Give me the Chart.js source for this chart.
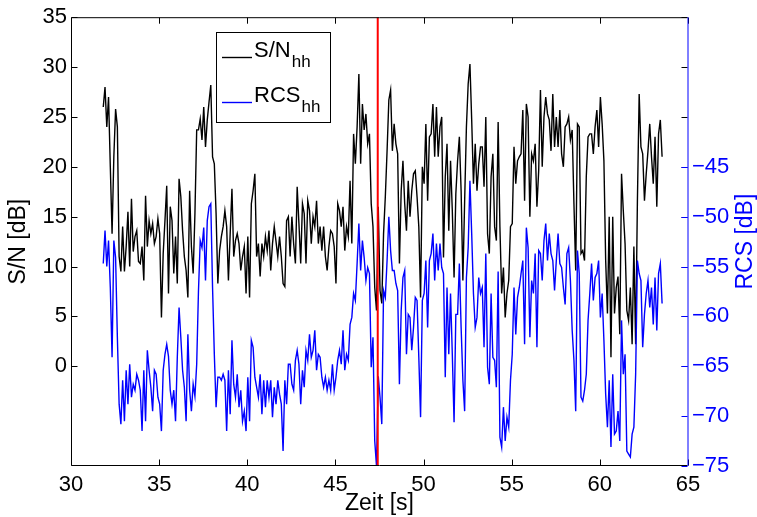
<!DOCTYPE html>
<html lang="de">
<head>
<meta charset="UTF-8">
<title>S/N und RCS</title>
<script src="https://cdn.jsdelivr.net/npm/chart.js"></script>
<style>
    * {
        margin: 0;
        padding: 0;
        box-sizing: border-box;
    }

    body {
        background: #fff;
        width: 757px;
        height: 517px;
        overflow: hidden;
    }

    #chart {
        display: block;
    }
</style>
</head>
<body>
<canvas id="chart" width="757" height="517"></canvas>
<script>
    // both traces are sampled on the same time grid (s)
    const tStart = 31.83;
    const tStep = 0.1;

    // S/N hh [dB] (left axis)
    const snHH = [
        26.0, 28.0, 24.0, 27.0, 20.0, 13.3, 21.0, 25.8, 24.0, 11.0, 9.5, 14.0, 9.5, 12.0, 15.5, 10.0, 16.8, 11.5, 13.0, 13.6,
        10.5, 10.3, 12.0, 8.6, 17.1, 12.0, 14.6, 13.3, 14.3, 12.3, 13.0, 14.8, 13.3, 4.9, 11.3, 14.6, 18.1, 7.3, 16.0, 14.6,
        9.3, 13.0, 8.3,
        18.8, 17, 13.6, 11, 9.6, 6.9, 17.6, 12, 9.3, 15.3, 23.7, 23.7, 24.8, 22.7, 26, 22, 24.7, 26.5, 28.2, 21,
        20.3, 15.3, 8.3, 11.6, 13, 14, 15.6, 14, 8.6, 13.3, 17.8, 11, 12.6, 13.3, 12.3, 9.6, 11, 12, 7.3, 13,
        6.9, 16.3, 17.6, 19.3, 11, 12.3,
        9.0, 12.3, 11, 13, 11.6, 13.6, 9.6, 12.3, 14, 12.5, 11, 13, 11, 8.3, 8.0, 14.6, 15, 11, 15, 12.3,
        10.3, 18, 14.3, 10.3, 16.3, 15.3, 10.3, 16.6, 15.6, 12.3, 15, 14, 16.6, 12.3, 14, 11.6, 14, 11, 9.6, 12,
        13.6, 13.3, 12, 8.3, 16.3,
        15.6, 14, 16, 11.6, 14, 13, 18.6, 12.3, 23.3, 20.3, 24, 29.3, 20.3, 26.3, 23.7, 25.3, 22.3, 23.3, 16.3, 14,
        7.9, 5.6, 16, 7.6, 6.3, 13.3, 17, 21.6, 26.7, 27.7, 21.6, 24.3, 22.3, 21.3, 10.3, 17.6, 20.6, 16.3, 13.6, 18.6,
        15, 17.6, 19.3, 19.6, 17,
        14, 6.9, 20, 18.3, 24.3, 16.6, 23, 23.3, 26.3, 21, 26, 21, 24, 25, 10.9, 19, 22.3, 13.6, 20.6, 15.6,
        8.9, 17.3, 20.6, 23, 17.6, 8.6, 16.6, 24, 28.3, 30.3, 24.7, 18.3, 22.3, 17.6, 20.3, 22, 22, 18, 25, 13.3,
        11.3, 19, 21.3, 14, 12.6,
        24.5, 14, 7.3, 9.9, 4.9, 7.3, 8.6, 14, 14.3, 22, 18.3, 20.6, 21, 21.3, 25.7, 16.6, 26.3, 25, 15, 21.3,
        20.6, 22.3, 16, 19.6, 27.7, 20, 25, 27, 25.3, 24.7, 21.6, 27.3, 22, 25, 22, 25.7, 21.3, 20, 24, 24.3,
        25, 22.7, 23.7, 16.3, 9.6,
        24.3, 24, 11.3, 11.6, 10.6, 19, 23, 23.3, 23.3, 21.3, 24, 25.7, 22, 27, 24.3, 20.6, 10.6, 5.3, 15, 0.9,
        15, 5.3, 7.9, 9, 3.2, 19.3, 15.6, 12.3, 5.6, 4.6, 7.9, 2.2, 12, 2.2, 16.6, 27.3, 22, 21.3, 16.6, 19.3,
        21.6, 24.3, 21, 18.3, 23, 16, 23.3, 24.7, 21
    ];

    // RCS hh [dB] (right axis)
    const rcsHH = [
        -54.7, -51.4, -55.0, -52.4, -57.1, -64.1, -52.4, -54.1, -62.1, -68.8, -70.8, -66.4, -70.5, -65.4, -68.8, -64.8, -68.1, -66.8, -67.4, -65.8,
        -66.4, -67.4, -71.5, -65.4, -70.5, -63.4, -65.4, -67.1, -69.5, -65.4, -65.8, -68.1, -68.8, -71.5, -65.4, -63.8, -62.8, -64.0, -67.4, -68.8,
        -67.4, -70.5, -64.1,
        -59.1, -62.1, -65.4, -67.1, -70.5, -61.8, -67.4, -69.5, -66.8, -68.0, -64.8, -57.5, -52.4, -53.1, -51.1, -56.4, -50.4, -49.0, -48.7, -57.1,
        -63.8, -69.1, -66.1, -66.1, -66.4, -65.8, -66.4, -71.5, -65.4, -69.8, -62.4, -66.8, -68.1, -65.8, -69.1, -67.4, -70.5, -69.5, -71.5, -66.1,
        -70.5, -62.4, -63.1, -66.1, -67.1, -68.1,
        -65.8, -69.8, -66.4, -69.1, -66.4, -68.1, -66.4, -70.1, -67.1, -68.8, -66.4, -67.8, -68.8, -73.5, -66.4, -68.8, -64.8, -64.8, -66.8, -67.4,
        -64.4, -63.4, -64.8, -68.8, -65.4, -67.1, -63.4, -64.4, -61.8, -64.1, -63.4, -61.4, -65.4, -63.8, -64.1, -66.1, -67.1, -66.1, -67.4, -66.4,
        -67.4, -64.8, -67.4, -66.1, -64.4,
        -63.4, -64.8, -61.4, -65.4, -63.8, -64.4, -60.8, -60.1, -57.7, -58.4, -54.7, -50.7, -55.4, -52.4, -54.1, -56.4, -55.1, -55.7, -65.1, -62.1,
        -72.5, -75.0, -66.0, -68.1, -70.8, -57.4, -58.1, -54.4, -50.0, -53.4, -55.4, -55.4, -56.7, -57.4, -66.8, -59.4, -56.1, -55.4, -63.8, -59.8,
        -60.1, -63.4, -61.1, -58.1, -58.4,
        -64.1, -70.1, -58.4, -57.7, -54.4, -61.1, -54.4, -53.7, -51.7, -56.4, -52.7, -55.4, -52.7, -55.1, -55.7, -66.1, -57.1, -63.8, -57.7, -63.8,
        -70.6, -59.8, -59.8, -54.7, -61.1, -66.4, -69.5, -56.1, -53.1, -46.4, -51.7, -57.7, -61.1, -60.1, -56.1, -57.7, -57.1, -63.1, -53.7, -65.1,
        -66.8, -57.7, -64.1, -64.4, -67.1,
        -55.5, -72.1, -73.1, -69.1, -72.5, -70.1, -71.1, -66.4, -63.8, -57.1, -61.8, -58.1, -57.1, -55.7, -54.4, -62.8, -51.1, -53.1, -62.1, -56.4,
        -57.7, -53.7, -63.1, -53.4, -53.7, -56.4, -52.4, -50.7, -54.4, -51.7, -53.7, -54.4, -57.4, -54.4, -51.7, -54.7, -55.1, -57.1, -58.8, -53.7,
        -53.1, -56.4, -61.4, -64.4, -69.5,
        -53.4, -55.7, -68.1, -68.5, -67.4, -65.8, -60.4, -57.7, -54.7, -58.4, -56.1, -55.7, -54.4, -60.1, -57.7, -62.4, -67.8, -71.1, -66.4, -73.1,
        -65.8, -71.8, -71.5, -69.5, -72.5, -60.4, -65.8, -63.8, -73.5, -73.8, -74.1, -71.8, -71.1, -65.8, -54.4, -55.7, -56.4, -63.1, -59.8, -57.7,
        -56.4, -59.1, -57.1, -60.8, -56.1, -61.4, -55.7, -54.7, -58.7
    ];

    const markerTime = 47.4;   // red vertical marker
    const xTicks = [30, 35, 40, 45, 50, 55, 60, 65];
    const snTicks = [0, 5, 10, 15, 20, 25, 30, 35];
    const rcsTicks = [-75, -70, -65, -60, -55, -50, -45];

    const FONT = "'Liberation Sans', Arial, Helvetica, sans-serif";
    const BLUE = '#0000ff';

    const times = snHH.map((_, i) => +(tStart + i * tStep).toFixed(2));
    const toPoints = vals => vals.map((v, i) => ({ x: times[i], y: v }));

    // box, inward ticks and the right axis title (matlab look)
    const framePlugin = {
        id: 'frame',
        afterDraw(chart) {
            const { ctx, chartArea: a, scales } = chart;
            const L = a.left + 0.5, R = a.right - 0.5, T = a.top + 0.5, B = a.bottom - 0.5;
            const tl = 6;
            ctx.save();
            ctx.lineWidth = 1;

            ctx.strokeStyle = '#000';
            ctx.beginPath();
            ctx.moveTo(R, T); ctx.lineTo(L, T); ctx.lineTo(L, B); ctx.lineTo(R, B);
            xTicks.forEach(v => {
                const px = Math.round(scales.x.getPixelForValue(v)) + 0.5;
                ctx.moveTo(px, B); ctx.lineTo(px, B - tl);
                ctx.moveTo(px, T); ctx.lineTo(px, T + tl);
            });
            snTicks.forEach(v => {
                const py = Math.round(scales.y.getPixelForValue(v)) + 0.5;
                ctx.moveTo(L, py); ctx.lineTo(L + tl, py);
                ctx.moveTo(R, py); ctx.lineTo(R - tl, py);
            });
            ctx.stroke();

            ctx.strokeStyle = BLUE;
            ctx.beginPath();
            ctx.moveTo(R + 0.5, T - 0.5); ctx.lineTo(R + 0.5, B + 0.5);
            rcsTicks.forEach(v => {
                const py = Math.round(scales.y2.getPixelForValue(v)) + 0.5;
                ctx.moveTo(R, py); ctx.lineTo(R - tl, py);
            });
            ctx.stroke();

            ctx.fillStyle = BLUE;
            ctx.font = '23px ' + FONT;
            ctx.textAlign = 'center';
            ctx.textBaseline = 'middle';
            ctx.translate(746, (a.top + a.bottom) / 2);
            ctx.rotate(-Math.PI / 2);
            ctx.fillText('RCS [dB]', 0, 0);
            ctx.restore();
        }
    };

    // legend with subscripts
    const legendPlugin = {
        id: 'subLegend',
        afterDraw(chart) {
            const ctx = chart.ctx;
            const entries = [
                { name: 'S/N', sub: 'hh', color: '#000', y: 57 },
                { name: 'RCS', sub: 'hh', color: BLUE, y: 102 }
            ];
            ctx.save();
            ctx.fillStyle = '#fff';
            ctx.fillRect(216, 32, 114, 90);
            ctx.strokeStyle = '#000';
            ctx.lineWidth = 1;
            ctx.strokeRect(216.5, 32.5, 114, 90);
            ctx.textBaseline = 'alphabetic';
            ctx.textAlign = 'left';
            entries.forEach(e => {
                ctx.strokeStyle = e.color;
                ctx.lineWidth = 1.4;
                ctx.beginPath();
                ctx.moveTo(222, e.y + 0.5);
                ctx.lineTo(252, e.y + 0.5);
                ctx.stroke();
                ctx.fillStyle = '#000';
                ctx.font = '22px ' + FONT;
                ctx.fillText(e.name, 254, e.y);
                const w = ctx.measureText(e.name).width;
                ctx.font = '17px ' + FONT;
                ctx.fillText(e.sub, 254 + w + 1, e.y + 10);
            });
            ctx.restore();
        }
    };

    const ctx = document.getElementById('chart').getContext('2d');
    const chart = new Chart(ctx, {
        type: 'line',
        data: {
            datasets: [
                {
                    label: 'Marker',
                    data: [{ x: markerTime, y: -10 }, { x: markerTime, y: 35 }],
                    borderColor: '#ff0000',
                    borderWidth: 2,
                    pointRadius: 0,
                    yAxisID: 'y',
                    order: 1
                },
                {
                    label: 'RCS hh',
                    data: toPoints(rcsHH),
                    borderColor: BLUE,
                    borderWidth: 1.4,
                    pointRadius: 0,
                    tension: 0,
                    yAxisID: 'y2',
                    order: 2
                },
                {
                    label: 'S/N hh',
                    data: toPoints(snHH),
                    borderColor: '#000',
                    borderWidth: 1.4,
                    pointRadius: 0,
                    tension: 0,
                    yAxisID: 'y',
                    order: 3
                }
            ]
        },
        options: {
            responsive: false,
            animation: false,
            devicePixelRatio: 1,
            layout: { padding: { top: 16, left: 0, right: 0, bottom: 0 } },
            plugins: {
                legend: { display: false },
                tooltip: { enabled: false }
            },
            scales: {
                x: {
                    type: 'linear',
                    min: 30,
                    max: 65,
                    afterBuildTicks: s => { s.ticks = xTicks.map(v => ({ value: v })); },
                    afterFit: s => { s.height = 51; },
                    grid: { display: false, drawTicks: false },
                    border: { display: false },
                    ticks: { color: '#000', padding: 6, maxRotation: 0, font: { family: FONT, size: 22 } },
                    title: {
                        display: true,
                        text: 'Zeit [s]',
                        color: '#000',
                        padding: { top: 0, bottom: 0 },
                        font: { family: FONT, size: 23 }
                    }
                },
                y: {
                    position: 'left',
                    min: -10,
                    max: 35,
                    afterBuildTicks: s => { s.ticks = snTicks.map(v => ({ value: v })); },
                    afterFit: s => { s.width = 71; },
                    grid: { display: false, drawTicks: false },
                    border: { display: false },
                    ticks: { color: '#000', padding: 4, font: { family: FONT, size: 22 } },
                    title: {
                        display: true,
                        text: 'S/N [dB]',
                        color: '#000',
                        padding: { top: 5, bottom: 0 },
                        font: { family: FONT, size: 23 }
                    }
                },
                y2: {
                    position: 'right',
                    min: -75,
                    max: -30,
                    afterBuildTicks: s => { s.ticks = rcsTicks.map(v => ({ value: v })); },
                    afterFit: s => { s.width = 69; },
                    grid: { display: false, drawTicks: false },
                    border: { display: false },
                    ticks: {
                        color: BLUE,
                        padding: 4,
                        font: { family: FONT, size: 22 },
                        callback: v => String(v).replace('-', '\u2212')
                    }
                }
            }
        },
        plugins: [framePlugin, legendPlugin]
    });
</script>
</body>
</html>
